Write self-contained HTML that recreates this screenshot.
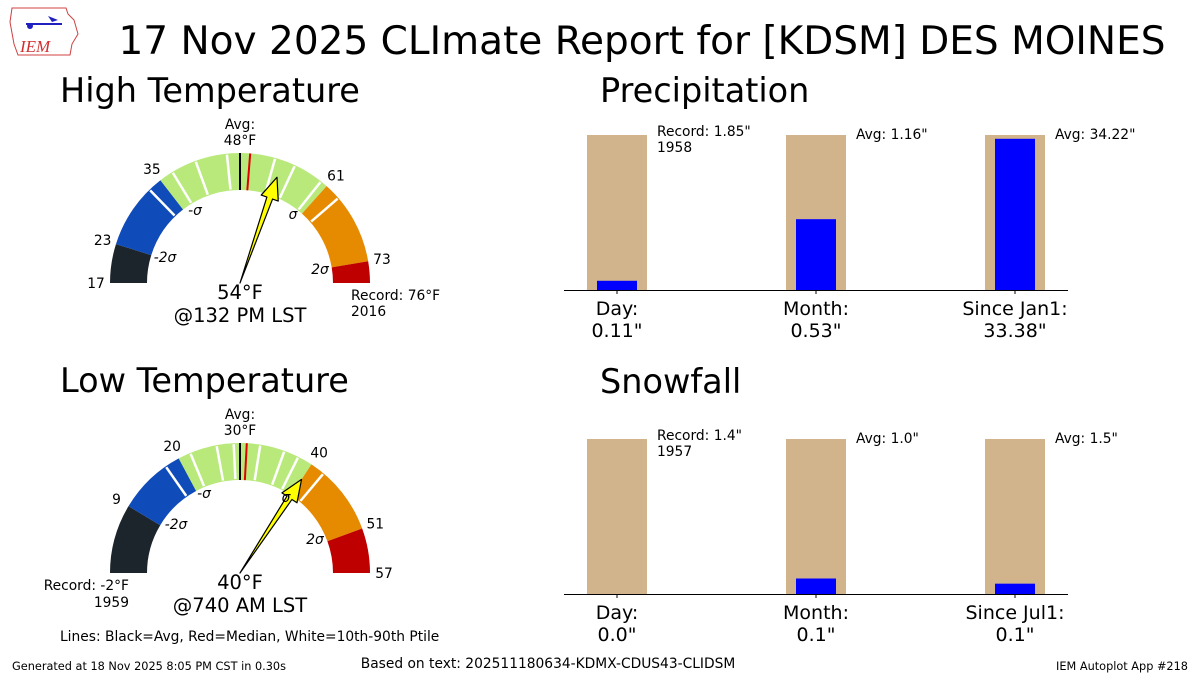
<!DOCTYPE html>
<html><head><meta charset="utf-8"><style>
body{margin:0;background:#fff;}
svg{display:block;font-family:"DejaVu Sans","Liberation Sans",sans-serif;}
</style></head><body>
<svg id="s" width="1200" height="675" viewBox="0 0 1200 675">
<rect width="1200" height="675" fill="#fff"/>
<g>
<path d="M12,8 L66,8 L68,14 L74,20 L78,34 L72,44 L70,55 L18,55 L14,44 L10,22 Z" fill="#fff" stroke="#d04040" stroke-width="1"/>
<line x1="26" y1="24" x2="62" y2="24" stroke="#2020c0" stroke-width="2"/>
<circle cx="30" cy="26" r="3" fill="#2020c0"/>
<path d="M48,16 L58,20 L52,22 Z" fill="#2020c0"/>
<text x="20" y="52" font-size="17" font-style="italic" fill="#d03030" font-family="Liberation Serif,serif">IEM</text>
</g>
<text x="642" y="54" font-size="39" text-anchor="middle">17 Nov 2025 CLImate Report for [KDSM] DES MOINES</text>
<text x="60" y="102" font-size="33.5">High Temperature</text>
<text x="600" y="102" font-size="33.5">Precipitation</text>
<text x="60" y="392" font-size="33.5">Low Temperature</text>
<text x="600" y="393" font-size="33.5">Snowfall</text>
<g id="g1"></g><g id="g2"></g><g id="b1"></g><g id="b2"></g>
<text x="60" y="641" font-size="13.8">Lines: Black=Avg, Red=Median, White=10th-90th Ptile</text>
<text x="12" y="670" font-size="11.3">Generated at 18 Nov 2025 8:05 PM CST in 0.30s</text>
<text x="548" y="668" font-size="13.8" text-anchor="middle">Based on text: 202511180634-KDMX-CDUS43-CLIDSM</text>
<text x="1188" y="670" font-size="11.3" text-anchor="end">IEM Autoplot App #218</text>
</svg>
<script>
// High temperature gauge data
const hiBounds=[17,23,35,61,73,76];
const hiAvg=48, hiMedian=49.4, hiObs=54;
const hiPct=[32.8,37.2,41.1,46,52.9,55.8,60,63.3];
const hiLabels=[17,23,35,61,73];
// Low temperature gauge data
const loBounds=[-2,9,20,40,51,57];
const loAvg=30, loMedian=30.9, loObs=40;
const loPct=[17.6,22,26.3,29,32.7,36,38,42];
const loLabels=[9,20,40,51,57];
// Precip data
const pCats=["Day:","Month:","Since Jan1:"];
const pObs=[0.11,0.53,33.38];
const pRef=[1.85,1.16,34.22];
const pObsTxt=['0.11"','0.53"','33.38"'];
const pRefTxt=['Record: 1.85"','Avg: 1.16"','Avg: 34.22"'];
const pRefSub=['1958','',''];
// Snow data
const sCats=["Day:","Month:","Since Jul1:"];
const sObs=[0.0,0.1,0.1];
const sRef=[1.4,1.0,1.5];
const sObsTxt=['0.0"','0.1"','0.1"'];
const sRefTxt=['Record: 1.4"','Avg: 1.0"','Avg: 1.5"'];
const sRefSub=['1957','',''];

const NS="http://www.w3.org/2000/svg";
function mk(p,t,a,txt){const e=document.createElementNS(NS,t);for(const k in a)e.setAttribute(k,a[k]);if(txt!==undefined)e.textContent=txt;p.appendChild(e);return e;}
const colors=["#1c252b","#0f4bb9","#b9e97b","#e68a00","#bf0000"];
function gauge(gid,b,avg,med,obs,pct,labels,cx,cy,name,lblOffsets){
  const g=document.getElementById(gid);
  const mn=b[0],mx=b[b.length-1];
  const ang=v=> v<=avg ? (v-mn)/(avg-mn)*90 : 90+(v-avg)/(mx-avg)*90;
  const R=130,r=93;
  const pt=(a,rad)=>[cx-rad*Math.cos(a*Math.PI/180),cy-rad*Math.sin(a*Math.PI/180)];
  for(let i=0;i<b.length-1;i++){
    const a0=ang(b[i]),a1=ang(b[i+1]);
    const p0=pt(a0,R),p1=pt(a1,R),p2=pt(a1,r),p3=pt(a0,r);
    const s=mk(g,'path',{d:`M${p0} A${R},${R} 0 0 1 ${p1} L${p2} A${r},${r} 0 0 0 ${p3} Z`,fill:colors[i]});
    
    
  }
  pct.forEach((v,i)=>{const a=ang(v);const p=pt(a,R-1),q=pt(a,r+1);
    const l=mk(g,'line',{x1:p[0],y1:p[1],x2:q[0],y2:q[1],stroke:'#fff','stroke-width':2.5});
    
    });
  [[avg,'#000','avg-line'],[med,'#e00000','median-line']].forEach(([v,c,n])=>{const a=ang(v);const p=pt(a,R),q=pt(a,r);
    const l=mk(g,'line',{x1:p[0],y1:p[1],x2:q[0],y2:q[1],stroke:c,'stroke-width':2});
    
    });
  // tick labels
  labels.forEach((v)=>{const a=ang(v);const p=pt(a,R+14);
    const t=mk(g,'text',{x:p[0],y:p[1]+5,'font-size':13.8,'text-anchor':'middle'},String(v));
    
    });
  // needle
  const a=ang(obs)*Math.PI/180;
  const ux=-Math.cos(a),uy=-Math.sin(a),nx=-uy,ny=ux;
  const L=112,H=22,hw=9,sw=3;
  const tip=[cx+ux*L,cy+uy*L],hb=[cx+ux*(L-H),cy+uy*(L-H)];
  const pts=[[cx,cy],[hb[0]+nx*sw,hb[1]+ny*sw],[hb[0]+nx*hw,hb[1]+ny*hw],tip,[hb[0]-nx*hw,hb[1]-ny*hw],[hb[0]-nx*sw,hb[1]-ny*sw]];
  const nd=mk(g,'polygon',{points:pts.map(p=>p.join(',')).join(' '),fill:'#ffff00',stroke:'#000','stroke-width':1.2,'stroke-linejoin':'round'});
  
  
  const t1=mk(g,'text',{x:cx,y:cy-R-24,'font-size':13.8,'text-anchor':'middle'},'Avg:');
  
  
  const t2=mk(g,'text',{x:cx,y:cy-R-8,'font-size':13.8,'text-anchor':'middle'},avg+'°F');
  
  
  const ob=mk(g,'text',{x:cx,y:cy+16,'font-size':19.5,'text-anchor':'middle'},obs+'°F');
  
  
  lblOffsets.forEach(([x,y,s])=>{const t=mk(g,'text',{x:x,y:y,'font-size':13.8,'font-style':'italic','text-anchor':'middle'},s);
    
    });
}
gauge('g1',hiBounds,hiAvg,hiMedian,hiObs,hiPct,hiLabels,240,283,'high-gauge',[[165,262,'-2σ'],[195,215,'-σ'],[293,219,'σ'],[320,274,'2σ']]);
gauge('g2',loBounds,loAvg,loMedian,loObs,loPct,loLabels,240,573,'low-gauge',[[176,529,'-2σ'],[204,498,'-σ'],[286,502,'σ'],[315,544,'2σ']]);
(function(){const g=document.getElementById('g1');
 let t=mk(g,'text',{x:240,y:322,'font-size':19.5,'text-anchor':'middle'},'@132 PM LST');
 t=mk(g,'text',{x:351,y:300,'font-size':13.8},'Record: 76°F');
 t=mk(g,'text',{x:351,y:316,'font-size':13.8},'2016');
 const h=document.getElementById('g2');
 t=mk(h,'text',{x:240,y:612,'font-size':19.5,'text-anchor':'middle'},'@740 AM LST');
 t=mk(h,'text',{x:129,y:590,'font-size':13.8,'text-anchor':'end'},'Record: -2°F');
 t=mk(h,'text',{x:129,y:607,'font-size':13.8,'text-anchor':'end'},'1959');
})();
function bars(gid,cats,obs,ref,obsTxt,refTxt,refSub,base,name){
  const g=document.getElementById(gid);const H=155,x0=617,dx=199;
  const ax=mk(g,'line',{x1:564,y1:base+0.5,x2:1068,y2:base+0.5,stroke:'#000','stroke-width':1});
  
  
  cats.forEach((c,i)=>{const x=x0+i*dx;const m=Math.max(obs[i],ref[i])||1;
    const rh=ref[i]/m*H,oh=obs[i]/m*H;
    const r=mk(g,'rect',{x:x-30,y:base-rh,width:60,height:rh,fill:'#d2b48c'});
    
    
    const o=mk(g,'rect',{x:x-20,y:base-oh,width:40,height:oh,fill:'#0000ff'});
    
    
    const tk=mk(g,'line',{x1:x,y1:base,x2:x,y2:base+4,stroke:'#000'});
    
    
    let t=mk(g,'text',{x:x,y:base+25,'font-size':19,'text-anchor':'middle'},c);
    
    
    t=mk(g,'text',{x:x,y:base+47,'font-size':19,'text-anchor':'middle'},obsTxt[i]);
    
    
    const ty=refSub[i]?base-H+1:base-H+4;
    t=mk(g,'text',{x:x+40,y:ty,'font-size':13.8},refTxt[i]);
    
    
    if(refSub[i]){t=mk(g,'text',{x:x+40,y:ty+16,'font-size':13.8},refSub[i]);
      
      }
  });
}
bars('b1',pCats,pObs,pRef,pObsTxt,pRefTxt,pRefSub,290,'precip');
bars('b2',sCats,sObs,sRef,sObsTxt,sRefTxt,sRefSub,594,'snow');
</script>
</body></html>
